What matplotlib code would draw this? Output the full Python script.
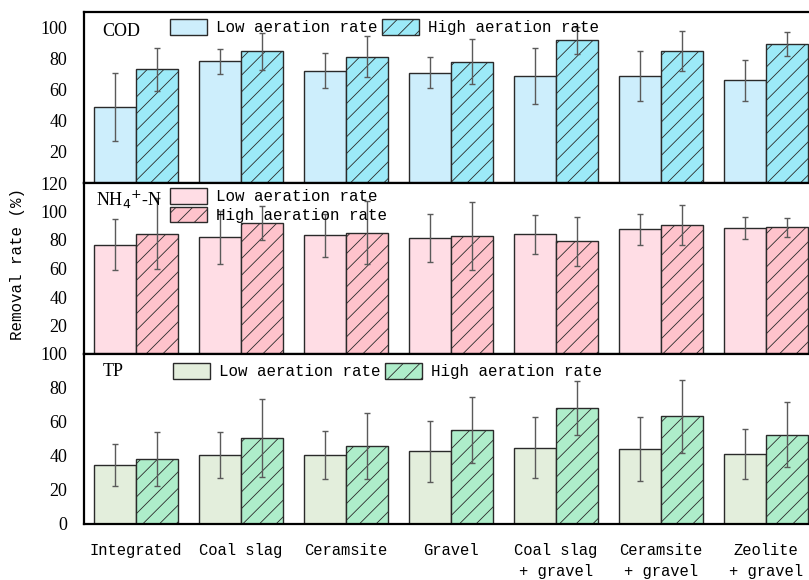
import numpy as np
import matplotlib
matplotlib.use("Agg")
import matplotlib.pyplot as plt

plt.rcParams['hatch.linewidth'] = 0.6

categories = ["Integrated", "Coal slag", "Ceramsite", "Gravel",
              "Coal slag\n+ gravel", "Ceramsite\n+ gravel", "Zeolite\n+ gravel"]

cod_low = [48.8, 78.3, 72.3, 70.8, 68.8, 68.6, 66.0]
cod_low_err = [22.0, 8.0, 11.5, 10.0, 18.0, 16.0, 13.0]
cod_high = [73.1, 84.7, 81.3, 78.1, 91.8, 85.0, 89.5]
cod_high_err = [14.0, 12.0, 13.0, 14.4, 8.5, 13.0, 7.8]

nh4_low = [76.7, 81.9, 83.3, 81.4, 84.0, 87.5, 88.4]
nh4_low_err = [18.0, 18.5, 15.0, 17.0, 13.5, 11.0, 8.0]
nh4_high = [84.4, 91.7, 85.1, 82.8, 79.1, 90.5, 88.9]
nh4_high_err = [25.0, 12.0, 22.0, 24.0, 17.0, 14.0, 6.7]

tp_low = [34.8, 40.5, 40.5, 42.7, 44.9, 44.1, 41.1]
tp_low_err = [12.4, 13.5, 14.0, 18.0, 18.0, 19.0, 14.6]
tp_high = [38.2, 50.8, 46.0, 55.5, 68.2, 63.4, 52.5]
tp_high_err = [16.0, 23.0, 19.5, 19.5, 16.0, 21.5, 19.0]

series_labels = ["Low aeration rate", "High aeration rate"]

MONO = "Liberation Mono"
SERIF = "Liberation Serif"

W, H = 809, 580
fig = plt.figure(figsize=(W / 100, H / 100), dpi=100)

left = 84 / W
right = 1.0
panels = [
    dict(name="COD", low=cod_low, lerr=cod_low_err, high=cod_high, herr=cod_high_err,
         colors=("#cdeefc", "#9ceaf8"), ylim=110, ticks=[20, 40, 60, 80, 100],
         top=12, bot=183, ncol=2, leg=(170, 19), lab=(102, 32)),
    dict(name=r"NH$_4$$^{+}$-N", low=nh4_low, lerr=nh4_low_err, high=nh4_high, herr=nh4_high_err,
         colors=("#ffdde5", "#ffc3cc"), ylim=120, ticks=[20, 40, 60, 80, 100, 120],
         top=183, bot=354, ncol=1, leg=(170, 188), lab=(96, 200)),
    dict(name="TP", low=tp_low, lerr=tp_low_err, high=tp_high, herr=tp_high_err,
         colors=("#e3eedc", "#aeedca"), ylim=100, ticks=[0, 20, 40, 60, 80, 100],
         top=354, bot=524, ncol=2, leg=(173, 363), lab=(103, 372)),
]

x = np.arange(len(categories))
bw = 0.4
x0 = -(136 - 84) / 105
x1 = (809 - 136) / 105

for i, p in enumerate(panels):
    ax = fig.add_axes([left, 1 - p["bot"] / H, right - left, (p["bot"] - p["top"]) / H])
    c_low, c_high = p["colors"]
    ekw = dict(ecolor="#5a5a5a", elinewidth=1.0, capsize=2.5, capthick=1.0)
    b1 = ax.bar(x - bw / 2, p["low"], bw, yerr=p["lerr"], color=c_low,
                edgecolor="#2a2a2a", linewidth=1.0, error_kw=ekw, label=series_labels[0])
    b2 = ax.bar(x + bw / 2, p["high"], bw, yerr=p["herr"], color=c_high,
                edgecolor="#2a2a2a", linewidth=1.0, hatch="//", error_kw=ekw,
                label=series_labels[1])
    ax.set_xlim(x0, x1)
    ax.set_ylim(0, p["ylim"])
    ax.set_yticks(p["ticks"])
    ax.tick_params(axis="y", length=0, pad=12, labelsize=13)
    for lbl in ax.get_yticklabels():
        lbl.set_fontfamily(SERIF)
    ax.spines["right"].set_visible(False)
    for s in ("left", "top", "bottom"):
        ax.spines[s].set_linewidth(1.6)
        ax.spines[s].set_color("black")
    if i < 2:
        ax.set_xticks([])
    else:
        ax.set_xticks(x)
        ax.set_xticklabels(categories, fontfamily=MONO, fontsize=11.2,
                           linespacing=1.45, multialignment="center")
        ax.tick_params(axis="x", length=0, pad=14)

    ax_h = p["bot"] - p["top"]
    ax.text((p["lab"][0] - 84) / (809 - 84), (p["bot"] - p["lab"][1]) / ax_h, p["name"],
            transform=ax.transAxes, fontfamily=SERIF, fontsize=13, va="center", ha="left")

    lx = (p["leg"][0] - 84) / (809 - 84)
    ly = (p["bot"] - p["leg"][1]) / ax_h
    ax.legend(handles=[b1, b2], loc="upper left", bbox_to_anchor=(lx, ly),
              ncol=p["ncol"], frameon=False, borderpad=0, borderaxespad=0,
              prop=dict(family=MONO, size=11.4), handlelength=2.35,
              handleheight=1.15, handletextpad=0.55, columnspacing=0.3,
              labelspacing=0.15)

fig.text(18 / W, 1 - 264 / H, "Removal rate (%)", rotation=90, fontfamily=MONO,
         fontsize=11.4, ha="center", va="center")

fig.savefig("out.png", dpi=100)
